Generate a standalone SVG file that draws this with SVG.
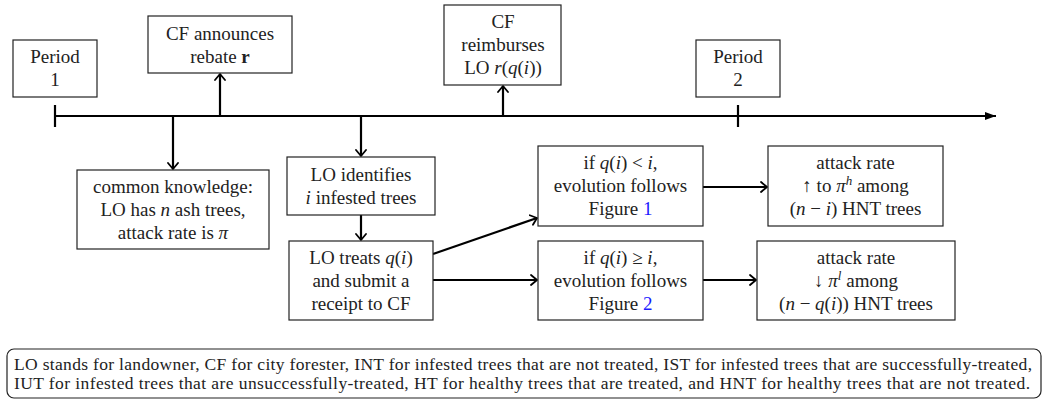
<svg xmlns="http://www.w3.org/2000/svg" width="1048" height="400" viewBox="0 0 1048 400" font-family="'Liberation Serif', 'DejaVu Serif', serif">
<style>
text{font-family:'Liberation Serif','Times New Roman',Tinos,'DejaVu Serif',serif;font-size:19px;fill:#222;text-anchor:middle}
.box{fill:#fff;stroke:#222;stroke-width:1.2}
.m{font-style:italic}
.b{font-weight:bold}
.lk{fill:#1a1aff}
.c{stroke:#000;stroke-width:2.2;fill:none}
.fn{font-size:17.5px;text-anchor:start}
</style>
<defs>
<marker id="ah" viewBox="-7 -6 9 12" markerWidth="9" markerHeight="12" refX="0" refY="0" orient="auto" markerUnits="userSpaceOnUse">
<path d="M-6,-5 L0,0 L-6,5" fill="none" stroke="#000" stroke-width="1.8" stroke-linecap="round" stroke-linejoin="round"/>
</marker>
<marker id="tri" viewBox="-11 -5 12 10" markerWidth="12" markerHeight="10" refX="0" refY="0" orient="auto" markerUnits="userSpaceOnUse">
<path d="M-11,-4 L0,0 L-11,4 Z" fill="#000"/>
</marker>
</defs>

<g id="connectors">
<line class="c" x1="55" y1="116" x2="996" y2="116" marker-end="url(#tri)"/>
<line class="c" x1="55" y1="105" x2="55" y2="127"/>
<line class="c" x1="738" y1="105" x2="738" y2="127"/>
<line class="c" x1="220" y1="116" x2="220" y2="74" marker-end="url(#ah)"/>
<line class="c" x1="503" y1="116" x2="503" y2="86" marker-end="url(#ah)"/>
<line class="c" x1="173" y1="116" x2="173" y2="169" marker-end="url(#ah)"/>
<line class="c" x1="361" y1="116" x2="361" y2="156" marker-end="url(#ah)"/>
<line class="c" x1="361" y1="215" x2="361" y2="240" marker-end="url(#ah)"/>
<line class="c" x1="433" y1="254" x2="537" y2="218" marker-end="url(#ah)"/>
<line class="c" x1="433" y1="280" x2="537" y2="280" marker-end="url(#ah)"/>
<line class="c" x1="703" y1="187" x2="767" y2="187" marker-end="url(#ah)"/>
<line class="c" x1="703" y1="280" x2="756" y2="280" marker-end="url(#ah)"/>
</g>

<g id="period1">
<rect class="box" x="13" y="40" width="84" height="57"/>
<text x="55" y="63">Period</text>
<text x="55" y="86">1</text>
</g>

<g id="announce">
<rect class="box" x="148" y="16" width="144" height="57"/>
<text x="220" y="40">CF announces</text>
<text x="220" y="63">rebate <tspan class="b">r</tspan></text>
</g>

<g id="reimburse">
<rect class="box" x="444" y="5" width="117" height="80"/>
<text x="503" y="28">CF</text>
<text x="503" y="51">reimburses</text>
<text x="503" y="74">LO <tspan class="m">r</tspan>(<tspan class="m">q</tspan>(<tspan class="m">i</tspan>))</text>
</g>

<g id="period2">
<rect class="box" x="696" y="40" width="84" height="57"/>
<text x="738" y="63">Period</text>
<text x="738" y="86">2</text>
</g>

<g id="common">
<rect class="box" x="77" y="170" width="192" height="79"/>
<text x="173" y="192.5">common knowledge:</text>
<text x="173" y="215.5">LO has <tspan class="m">n</tspan> ash trees,</text>
<text x="173" y="238.5">attack rate is <tspan class="m">π</tspan></text>
</g>

<g id="identify">
<rect class="box" x="287" y="157" width="148" height="58"/>
<text x="361" y="180.5">LO identifies</text>
<text x="361" y="203.5"><tspan class="m">i</tspan> infested trees</text>
</g>

<g id="treat">
<rect class="box" x="289" y="241" width="144" height="79"/>
<text x="361" y="263.5">LO treats <tspan class="m">q</tspan>(<tspan class="m">i</tspan>)</text>
<text x="361" y="286.5">and submit a</text>
<text x="361" y="309.5">receipt to CF</text>
</g>

<g id="fig1">
<rect class="box" x="538" y="146" width="165" height="80"/>
<text x="620.5" y="169">if <tspan class="m">q</tspan>(<tspan class="m">i</tspan>) &lt; <tspan class="m">i</tspan>,</text>
<text x="620.5" y="192">evolution follows</text>
<text x="620.5" y="215">Figure <tspan class="lk">1</tspan></text>
</g>

<g id="fig2">
<rect class="box" x="538" y="241" width="165" height="79"/>
<text x="620.5" y="263.5">if <tspan class="m">q</tspan>(<tspan class="m">i</tspan>) ≥ <tspan class="m">i</tspan>,</text>
<text x="620.5" y="286.5">evolution follows</text>
<text x="620.5" y="309.5">Figure <tspan class="lk">2</tspan></text>
</g>

<g id="attack1">
<rect class="box" x="768" y="146" width="175" height="80"/>
<text x="855.5" y="169">attack rate</text>
<text x="855.5" y="192">↑ to <tspan class="m">π</tspan><tspan class="m" font-size="13" dy="-7">h</tspan><tspan dy="7"> among</tspan></text>
<text x="855.5" y="215">(<tspan class="m">n</tspan> − <tspan class="m">i</tspan>) HNT trees</text>
</g>

<g id="attack2">
<rect class="box" x="757" y="241" width="198" height="79"/>
<text x="856" y="263.5">attack rate</text>
<text x="856" y="286.5">↓ <tspan class="m">π</tspan><tspan class="m" font-size="13" dy="-7">l</tspan><tspan dy="7"> among</tspan></text>
<text x="856" y="309.5">(<tspan class="m">n</tspan> − <tspan class="m">q</tspan>(<tspan class="m">i</tspan>)) HNT trees</text>
</g>

<g id="footnote">
<rect class="box" x="7" y="349" width="1034" height="49" rx="7"/>
<text class="fn" x="14" y="370" textLength="1018" lengthAdjust="spacing">LO stands for landowner, CF for city forester, INT for infested trees that are not treated, IST for infested trees that are successfully-treated,</text>
<text class="fn" x="14" y="389" textLength="1016" lengthAdjust="spacing">IUT for infested trees that are unsuccessfully-treated, HT for healthy trees that are treated, and HNT for healthy trees that are not treated.</text>
</g>
</svg>
